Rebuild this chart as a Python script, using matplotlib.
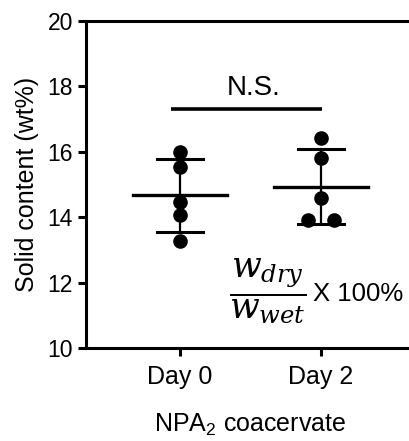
import numpy as np
import matplotlib
matplotlib.use("Agg")
import matplotlib.pyplot as plt

plt.rcParams['font.family'] = ['Liberation Sans', 'DejaVu Sans']
plt.rcParams['mathtext.fontset'] = 'custom'
plt.rcParams['mathtext.rm'] = 'Liberation Sans'
plt.rcParams['mathtext.it'] = 'Liberation Sans:italic'

# data (wt%)
groups = ['Day 0', 'Day 2']
day0 = [16.0, 15.54, 14.46, 14.05, 13.26]
day2 = [16.43, 15.82, 14.57, 13.91, 13.91]
jitter0 = [0, 0, 0, 0, 0]
jitter2 = [0, 0, 0, -0.089, 0.089]

fig = plt.figure(figsize=(4.09, 4.41), dpi=100)
ax = fig.add_axes([86 / 409, 93 / 441, (415 - 86) / 409, (348 - 20.7) / 441])

for i, (vals, jit) in enumerate([(day0, jitter0), (day2, jitter2)]):
    vals = np.array(vals)
    m = vals.mean()
    sd = vals.std(ddof=1)
    ax.plot(i + np.array(jit), vals, 'o', color='black', ms=9.5, zorder=3)
    ax.plot([i, i], [m - sd, m + sd], color='black', lw=1.6, zorder=2)
    ax.plot([i - 0.333, i + 0.333], [m, m], color='black', lw=2.4, zorder=2)
    ax.plot([i - 0.165, i + 0.165], [m + sd, m + sd], color='black', lw=2.2)
    ax.plot([i - 0.165, i + 0.165], [m - sd, m - sd], color='black', lw=2.2)

# significance bar
ax.plot([-0.064, 1.01], [17.3, 17.3], color='black', lw=2.6, solid_capstyle='butt')
ax.text(0.52, 17.95, 'N.S.', ha='center', va='center', fontsize=20)

# formula
ax.text(0.624, 11.72, r'$\dfrac{w_{dry}}{w_{wet}}$', ha='center', va='center',
        fontsize=25, math_fontfamily='dejavuserif')
ax.text(0.943, 11.66, 'X 100%', ha='left', va='center', fontsize=18.5)

ax.set_xlim(-0.667, 1.667)
ax.set_ylim(10, 20)
ax.set_yticks(np.arange(10, 21, 2))
ax.set_xticks(range(len(groups)))
ax.set_xticklabels(groups, fontsize=18)
ax.tick_params(axis='y', labelsize=16.5, width=2.2, length=6)
ax.tick_params(axis='x', width=2.2, length=6, pad=6)
for s in ['left', 'bottom', 'top']:
    ax.spines[s].set_linewidth(2.2)
ax.spines['right'].set_visible(False)

ax.set_ylabel('Solid content (wt%)', fontsize=18, labelpad=6)
ax.set_xlabel('NPA$_2$ coacervate', fontsize=18, labelpad=17)

fig.savefig('out.png', dpi=100)
